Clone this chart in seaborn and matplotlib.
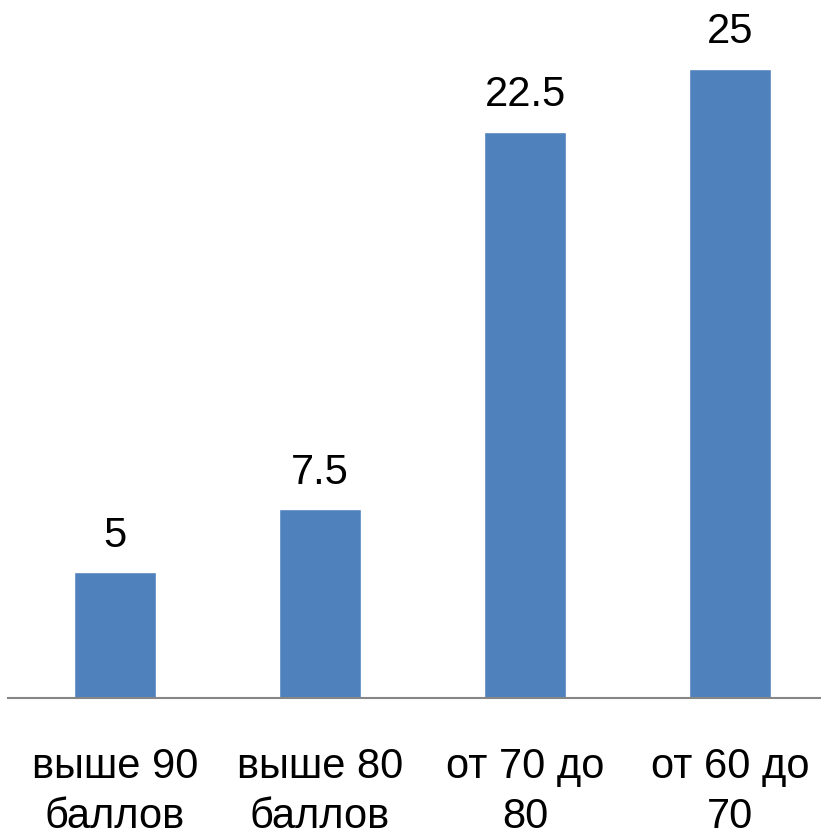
import matplotlib
matplotlib.use("Agg")
import matplotlib.pyplot as plt
import seaborn as sns
import pandas as pd

categories = ["выше 90\nбаллов", "выше 80\nбаллов", "от 70 до\n80", "от 60 до\n70"]
values = [5, 7.5, 22.5, 25]
value_labels = ["5", "7.5", "22.5", "25"]

sns.set_theme(style="white")
plt.rcParams['font.family'] = ['Liberation Sans', 'DejaVu Sans']

df = pd.DataFrame({"cat": categories, "val": values})

W, H = 821, 838
fig = plt.figure(figsize=(W / 100, H / 100), dpi=100)
left_px, base_px = 8, 698
ax = fig.add_axes([left_px / W, (H - base_px) / H, (W - left_px) / W, base_px / H])

sns.barplot(data=df, x="cat", y="val", color="#4F81BD", saturation=1, width=0.4, ax=ax)

px_per_unit = 629 / 25
ax.set_ylim(0, base_px / px_per_unit)
ax.set_xlim(-(115 - left_px) / 205, 3 + (W - 730) / 205)

ax.bar_label(ax.containers[0], labels=value_labels, padding=12, fontsize=30, color="black")

for s in ["top", "right", "left"]:
    ax.spines[s].set_visible(False)
ax.spines["bottom"].set_color("#868686")
ax.spines["bottom"].set_linewidth(1.5)
ax.set_yticks([])
ax.set_xlabel("")
ax.set_ylabel("")
ax.tick_params(axis="x", length=0, pad=35, labelsize=30, labelcolor="black")
for t in ax.get_xticklabels():
    t.set_linespacing(1.33)

fig.savefig("out.png", dpi=100)
